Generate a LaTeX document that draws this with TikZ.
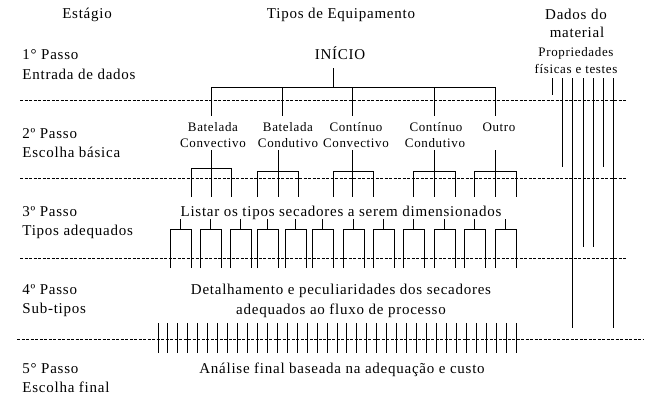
\documentclass[tikz,border=0pt]{standalone}
\usepackage{fontspec}
\setmainfont{Liberation Serif}[LetterSpace=5]
\begin{document}
\begin{tikzpicture}[x=1pt,y=-1pt,line width=0.9pt,
  mt/.style={inner sep=0pt,anchor=base,font=\fontsize{15}{18}\selectfont},
  lt/.style={mt,anchor=base west},
  st/.style={inner sep=0pt,anchor=base,font=\fontsize{13}{15}\selectfont},
  sep/.style={line width=0.7pt,dash pattern=on 3pt off 1.5pt},
  ln/.style={line width=0.9pt}]
\useasboundingbox (0,0) rectangle (650,397);
% headers
\node[mt] (estagio) at (87,18) {Estágio};
\node[mt] (tipos) at (341,18) {Tipos de Equipamento};
\node[mt] (dados1) at (576,19) {Dados do};
\node[mt] (dados2) at (577,37) {material};
\node[st] (prop1) at (576,56) {Propriedades};
\node[st] (prop2) at (576,73) {físicas e testes};
% stages
\node[lt] (p1) at (22,59) {1° Passo};
\node[lt] (p1b) at (22,79) {Entrada de dados};
\node[lt] (p2) at (22,138) {2º Passo};
\node[lt] (p2b) at (22,157) {Escolha básica};
\node[lt] (p3) at (22,216) {3º Passo};
\node[lt] (p3b) at (22,235) {Tipos adequados};
\node[lt] (p4) at (22,294) {4º Passo};
\node[lt] (p4b) at (22,313) {Sub-tipos};
\node[lt] (p5) at (22,373) {5° Passo};
\node[lt] (p5b) at (22,392) {Escolha final};
% center texts
\node[mt] (ini) at (340,59) {INÍCIO};
\node[st] (b1a) at (213,131) {Batelada};
\node[st] (b1b) at (213,147) {Convectivo};
\node[st] (b2a) at (288,131) {Batelada};
\node[st] (b2b) at (288,147) {Condutivo};
\node[st] (c1a) at (356,131) {Contínuo};
\node[st] (c1b) at (356,147) {Convectivo};
\node[st] (c2a) at (436,131) {Contínuo};
\node[st] (c2b) at (435,147) {Condutivo};
\node[st] (outro) at (499,131) {Outro};
\node[mt] (listar) at (341,216) {Listar os tipos secadores a serem dimensionados};
\node[mt] (det1) at (341,294) {Detalhamento e peculiaridades dos secadores};
\node[mt] (det2) at (341,314) {adequados ao fluxo de processo};
\node[mt] (anal) at (342,373) {Análise final baseada na adequação e custo};
% separators
\draw[sep] (20,100) -- (627,100);
\draw[sep] (20,178) -- (627,178);
\draw[sep] (20,258) -- (627,258);
\draw[sep] (17,339) -- (643,339);
% tree from INICIO
\coordinate (iniB) at (333,68);
\coordinate (iniJ) at (333,87);
\draw[ln] (iniB) -- (iniJ);
\draw[ln] (211,87) -- (495,87);
\foreach \x in {211,282,352,434,495} \draw[ln] (\x,87) -- (\x,116);
% forks below categories
\foreach \c/\t/\l/\r in {211/168/191/231, 278/171/257/298, 352/171/333/373, 434/171/413/455, 495/171/474/516}{
  \draw[ln] (\c,150) -- (\c,197);
  \draw[ln] (\l,197) -- (\l,\t) -- (\r,\t) -- (\r,197);
}
% small forks row 3
\foreach \l in {170,200,230,257,285,312,343,373,403,434,464,495}{
  \draw[ln] (\l+10.5,219) -- (\l+10.5,229);
  \draw[ln] (\l,268) -- (\l,229) -- (\l+21,229) -- (\l+21,268);
}
% ticks row 4
\foreach \k in {0,...,36} \draw[ln] (158+\k*9.944,323) -- (158+\k*9.944,353);
% material data lines
\draw[ln] (552,78) -- (552,95);
\draw[ln] (562,78) -- (562,167);
\draw[ln] (572,78) -- (572,328);
\draw[ln] (583,78) -- (583,247);
\draw[ln] (593,78) -- (593,247);
\draw[ln] (603,78) -- (603,167);
\draw[ln] (613,78) -- (613,328);
\end{tikzpicture}
\end{document}
